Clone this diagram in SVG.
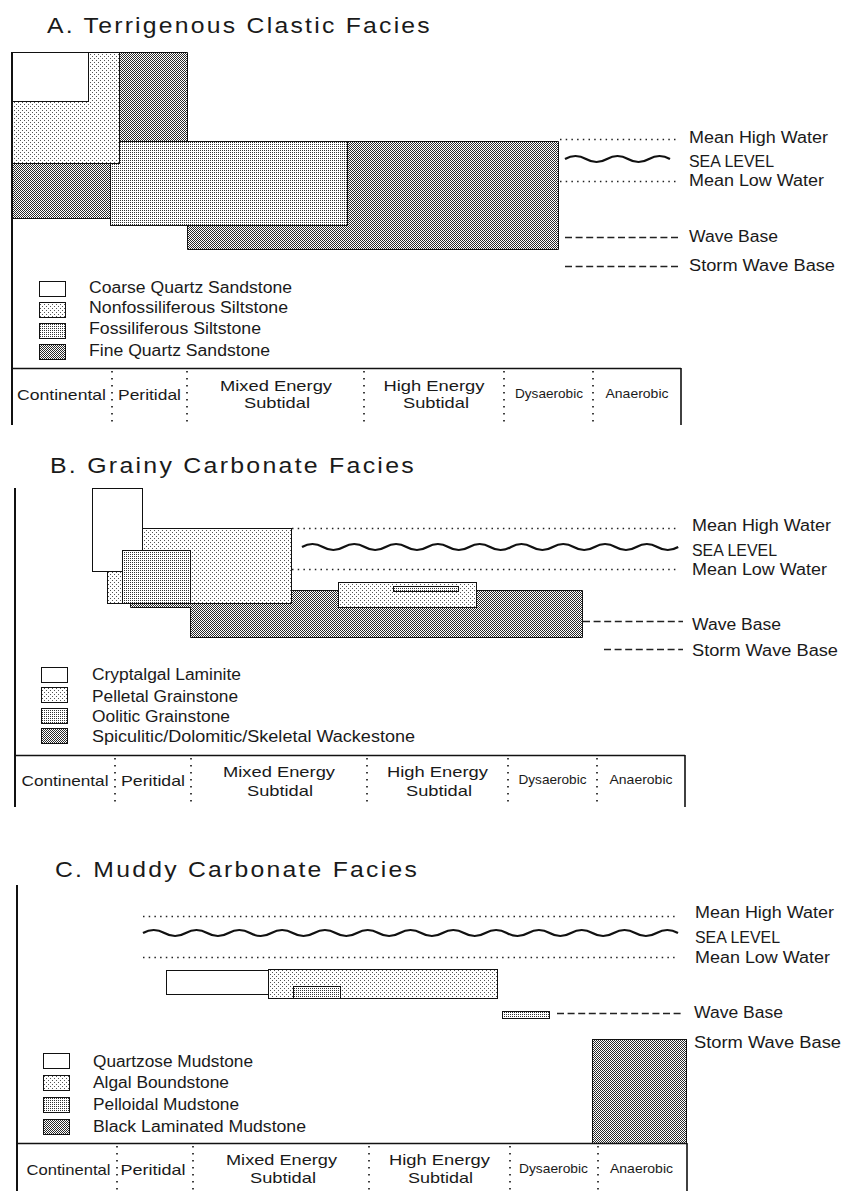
<svg xmlns="http://www.w3.org/2000/svg" width="846" height="1191" viewBox="0 0 846 1191">
<style>
.t{font-family:"Liberation Sans",Arial,sans-serif;font-size:16px;fill:#1a1a1a}
.ttl{font-size:22px;letter-spacing:2px}
.z{font-size:15px}
.sm{font-size:13.5px}
.box{stroke:#111;stroke-width:1}
.ax{stroke:#111;stroke-width:2;fill:none}
.bar{stroke:#111;stroke-width:1.6;fill:none}
.sep{stroke:#111;stroke-width:1.6;stroke-dasharray:1.6 5.4;fill:none}
.dot{stroke:#222;stroke-width:1.5;stroke-dasharray:1.5 4.2;fill:none}
.dash{stroke:#222;stroke-width:1.5;stroke-dasharray:7 3.6;fill:none}
.wave{stroke:#111;stroke-width:2.2;fill:none}
.w{fill:#fff}
.l{fill:url(#pL)}
.m{fill:url(#pM)}
.d{fill:url(#pD)}
</style>
<defs>
<pattern id="pL" width="4" height="4" patternUnits="userSpaceOnUse"><rect width="4" height="4" fill="#fff"/><rect x="0" y="0" width="1" height="1" fill="#555"/><rect x="2" y="2" width="1" height="1" fill="#555"/></pattern>
<pattern id="pM" width="2" height="2" patternUnits="userSpaceOnUse"><rect width="2" height="2" fill="#fff"/><rect x="0" y="0" width="1" height="1" fill="#333"/></pattern>
<pattern id="pD" width="2" height="2" patternUnits="userSpaceOnUse"><rect width="2" height="2" fill="#fff"/><rect x="0" y="0" width="1" height="1" fill="#2a2a2a"/><rect x="1" y="1" width="1" height="1" fill="#2a2a2a"/></pattern>
</defs>
<rect width="846" height="1191" fill="#fff"/>

<!-- Panel A -->
<g id="panelA">
<text class="t ttl" x="47" y="33" textLength="385" lengthAdjust="spacingAndGlyphs">A. Terrigenous Clastic Facies</text>
<g id="A-facies">
<polygon class="box d" points="12.5,52.5 187.5,52.5 187.5,141.5 558.5,141.5 558.5,249.5 187.5,249.5 187.5,218.5 12.5,218.5"/>
<rect class="box m" x="110.5" y="141.5" width="237" height="84"/>
<rect class="box l" x="12.5" y="52.5" width="107" height="111"/>
<rect class="box w" x="12.5" y="52.5" width="76" height="49"/>
</g>
<g id="A-levels">
<line class="dot" x1="560" y1="139.5" x2="676" y2="139.5"/>
<path class="wave" d="M565 159 q10.5 -6 21 0 t21 0 t21 0 t21 0 t21 0"/>
<line class="dot" x1="560" y1="181.5" x2="676" y2="181.5"/>
<line class="dash" x1="565" y1="237.5" x2="678" y2="237.5"/>
<line class="dash" x1="565" y1="266.5" x2="680" y2="266.5"/>
<text class="t" x="689" y="143" textLength="139" lengthAdjust="spacingAndGlyphs">Mean High Water</text>
<text class="t" x="689" y="167" textLength="85" lengthAdjust="spacingAndGlyphs">SEA LEVEL</text>
<text class="t" x="689" y="186" textLength="135" lengthAdjust="spacingAndGlyphs">Mean Low Water</text>
<text class="t" x="689" y="242" textLength="89" lengthAdjust="spacingAndGlyphs">Wave Base</text>
<text class="t" x="689" y="271" textLength="146" lengthAdjust="spacingAndGlyphs">Storm Wave Base</text>
</g>
<g id="A-legend">
<rect class="box w" x="39.5" y="281.5" width="26" height="15"/>
<rect class="box l" x="39.5" y="302.5" width="26" height="15"/>
<rect class="box m" x="39.5" y="323.5" width="26" height="15"/>
<rect class="box d" x="39.5" y="344.5" width="26" height="15"/>
<text class="t" x="89" y="293" textLength="203" lengthAdjust="spacingAndGlyphs">Coarse Quartz Sandstone</text>
<text class="t" x="89" y="313" textLength="199" lengthAdjust="spacingAndGlyphs">Nonfossiliferous Siltstone</text>
<text class="t" x="89" y="334" textLength="172" lengthAdjust="spacingAndGlyphs">Fossiliferous Siltstone</text>
<text class="t" x="89" y="356" textLength="181" lengthAdjust="spacingAndGlyphs">Fine Quartz Sandstone</text>
</g>
<g id="A-zones">
<line class="ax" x1="12" y1="52" x2="12" y2="425"/>
<line class="bar" x1="12" y1="368.5" x2="681" y2="368.5"/>
<line class="bar" x1="681" y1="368" x2="681" y2="425"/>
<line class="sep" x1="112" y1="371" x2="112" y2="425"/>
<line class="sep" x1="187" y1="371" x2="187" y2="425"/>
<line class="sep" x1="364" y1="371" x2="364" y2="425"/>
<line class="sep" x1="504" y1="371" x2="504" y2="425"/>
<line class="sep" x1="593" y1="371" x2="593" y2="425"/>
<text class="t z" x="61.5" y="400" text-anchor="middle" textLength="89" lengthAdjust="spacingAndGlyphs">Continental</text>
<text class="t z" x="149.5" y="400" text-anchor="middle" textLength="63" lengthAdjust="spacingAndGlyphs">Peritidal</text>
<text class="t z" x="276" y="391" text-anchor="middle" textLength="112" lengthAdjust="spacingAndGlyphs">Mixed Energy</text>
<text class="t z" x="277" y="408" text-anchor="middle" textLength="66" lengthAdjust="spacingAndGlyphs">Subtidal</text>
<text class="t z" x="434" y="391" text-anchor="middle" textLength="101" lengthAdjust="spacingAndGlyphs">High Energy</text>
<text class="t z" x="436" y="408" text-anchor="middle" textLength="66" lengthAdjust="spacingAndGlyphs">Subtidal</text>
<text class="t sm" x="549" y="398" text-anchor="middle" textLength="68" lengthAdjust="spacingAndGlyphs">Dysaerobic</text>
<text class="t sm" x="637" y="398" text-anchor="middle" textLength="63" lengthAdjust="spacingAndGlyphs">Anaerobic</text>
</g>
</g>

<!-- Panel B -->
<g id="panelB">
<text class="t ttl" x="50" y="473" textLength="366" lengthAdjust="spacingAndGlyphs">B. Grainy Carbonate Facies</text>
<g id="B-facies">
<polygon class="box d" points="130.5,595.5 190.5,595.5 190.5,590.5 582.5,590.5 582.5,637.5 190.5,637.5 190.5,607.5 130.5,607.5"/>
<rect class="box l" x="107.5" y="528.5" width="184" height="75"/>
<rect class="box w" x="92.5" y="488.5" width="50" height="83"/>
<rect class="box m" x="122.5" y="550.5" width="68" height="53"/>
<rect class="box l" x="338.5" y="582.5" width="138" height="25"/>
<rect class="box m" x="393.5" y="586.5" width="65" height="5"/>
</g>
<g id="B-levels">
<line class="dot" x1="292" y1="528.5" x2="679" y2="528.5"/>
<path class="wave" d="M302 547 q10.45 -6 20.9 0 t20.9 0 t20.9 0 t20.9 0 t20.9 0 t20.9 0 t20.9 0 t20.9 0 t20.9 0 t20.9 0 t20.9 0 t20.9 0 t20.9 0 t20.9 0 t20.9 0 t20.9 0 t20.9 0 t20.9 0"/>
<line class="dot" x1="292" y1="569.5" x2="679" y2="569.5"/>
<line class="dash" x1="583" y1="621.5" x2="683" y2="621.5"/>
<line class="dash" x1="604" y1="649.5" x2="683" y2="649.5"/>
<text class="t" x="692" y="531" textLength="139" lengthAdjust="spacingAndGlyphs">Mean High Water</text>
<text class="t" x="692" y="556" textLength="85" lengthAdjust="spacingAndGlyphs">SEA LEVEL</text>
<text class="t" x="692" y="575" textLength="135" lengthAdjust="spacingAndGlyphs">Mean Low Water</text>
<text class="t" x="692" y="630" textLength="89" lengthAdjust="spacingAndGlyphs">Wave Base</text>
<text class="t" x="692" y="656" textLength="146" lengthAdjust="spacingAndGlyphs">Storm Wave Base</text>
</g>
<g id="B-legend">
<rect class="box w" x="41.5" y="667.5" width="26" height="15"/>
<rect class="box l" x="41.5" y="687.5" width="26" height="15"/>
<rect class="box m" x="41.5" y="708.5" width="26" height="15"/>
<rect class="box d" x="41.5" y="728.5" width="26" height="15"/>
<text class="t" x="92" y="680" textLength="149" lengthAdjust="spacingAndGlyphs">Cryptalgal Laminite</text>
<text class="t" x="92" y="702" textLength="146" lengthAdjust="spacingAndGlyphs">Pelletal Grainstone</text>
<text class="t" x="92" y="722" textLength="138" lengthAdjust="spacingAndGlyphs">Oolitic Grainstone</text>
<text class="t" x="92" y="742" textLength="323" lengthAdjust="spacingAndGlyphs">Spiculitic/Dolomitic/Skeletal Wackestone</text>
</g>
<g id="B-zones">
<line class="ax" x1="15" y1="488" x2="15" y2="807"/>
<line class="bar" x1="15" y1="755.5" x2="685" y2="755.5"/>
<line class="bar" x1="685" y1="755" x2="685" y2="807"/>
<line class="sep" x1="115" y1="758" x2="115" y2="807"/>
<line class="sep" x1="191" y1="758" x2="191" y2="807"/>
<line class="sep" x1="367" y1="758" x2="367" y2="807"/>
<line class="sep" x1="508" y1="758" x2="508" y2="807"/>
<line class="sep" x1="597" y1="758" x2="597" y2="807"/>
<text class="t z" x="65" y="786" text-anchor="middle" textLength="87" lengthAdjust="spacingAndGlyphs">Continental</text>
<text class="t z" x="153" y="786" text-anchor="middle" textLength="64" lengthAdjust="spacingAndGlyphs">Peritidal</text>
<text class="t z" x="279" y="777" text-anchor="middle" textLength="112" lengthAdjust="spacingAndGlyphs">Mixed Energy</text>
<text class="t z" x="280" y="796" text-anchor="middle" textLength="66" lengthAdjust="spacingAndGlyphs">Subtidal</text>
<text class="t z" x="437.5" y="777" text-anchor="middle" textLength="101" lengthAdjust="spacingAndGlyphs">High Energy</text>
<text class="t z" x="439" y="796" text-anchor="middle" textLength="66" lengthAdjust="spacingAndGlyphs">Subtidal</text>
<text class="t sm" x="552.5" y="784" text-anchor="middle" textLength="68" lengthAdjust="spacingAndGlyphs">Dysaerobic</text>
<text class="t sm" x="641" y="784" text-anchor="middle" textLength="63" lengthAdjust="spacingAndGlyphs">Anaerobic</text>
</g>
</g>

<!-- Panel C -->
<g id="panelC">
<text class="t ttl" x="55" y="877" textLength="364" lengthAdjust="spacingAndGlyphs">C. Muddy Carbonate Facies</text>
<g id="C-facies">
<rect class="box w" x="166.5" y="970.5" width="102" height="24"/>
<rect class="box l" x="268.5" y="969.5" width="229" height="29"/>
<rect class="box m" x="293.5" y="986.5" width="47" height="12"/>
<rect class="box m" x="502.5" y="1011.5" width="47" height="7"/>
<rect class="box d" x="592.5" y="1039.5" width="94" height="104"/>
</g>
<g id="C-levels">
<line class="dot" x1="143" y1="916.5" x2="678" y2="916.5"/>
<path class="wave" d="M143 933 q10.7 -6 21.4 0 t21.4 0 t21.4 0 t21.4 0 t21.4 0 t21.4 0 t21.4 0 t21.4 0 t21.4 0 t21.4 0 t21.4 0 t21.4 0 t21.4 0 t21.4 0 t21.4 0 t21.4 0 t21.4 0 t21.4 0 t21.4 0 t21.4 0 t21.4 0 t21.4 0 t21.4 0 t21.4 0 t21.4 0"/>
<line class="dot" x1="143" y1="957.5" x2="678" y2="957.5"/>
<line class="dash" x1="557" y1="1013.5" x2="683" y2="1013.5"/>
<text class="t" x="695" y="918" textLength="139" lengthAdjust="spacingAndGlyphs">Mean High Water</text>
<text class="t" x="695" y="943" textLength="85" lengthAdjust="spacingAndGlyphs">SEA LEVEL</text>
<text class="t" x="695" y="963" textLength="135" lengthAdjust="spacingAndGlyphs">Mean Low Water</text>
<text class="t" x="694" y="1018" textLength="89" lengthAdjust="spacingAndGlyphs">Wave Base</text>
<text class="t" x="694" y="1048" textLength="147" lengthAdjust="spacingAndGlyphs">Storm Wave Base</text>
</g>
<g id="C-legend">
<rect class="box w" x="43.5" y="1053.5" width="26" height="15"/>
<rect class="box l" x="43.5" y="1075.5" width="26" height="15"/>
<rect class="box m" x="43.5" y="1097.5" width="26" height="15"/>
<rect class="box d" x="43.5" y="1119.5" width="26" height="15"/>
<text class="t" x="93" y="1067" textLength="160" lengthAdjust="spacingAndGlyphs">Quartzose Mudstone</text>
<text class="t" x="93" y="1088" textLength="136" lengthAdjust="spacingAndGlyphs">Algal Boundstone</text>
<text class="t" x="93" y="1110" textLength="146" lengthAdjust="spacingAndGlyphs">Pelloidal Mudstone</text>
<text class="t" x="93" y="1132" textLength="213" lengthAdjust="spacingAndGlyphs">Black Laminated Mudstone</text>
</g>
<g id="C-zones">
<line class="ax" x1="17" y1="885" x2="17" y2="1191"/>
<line class="bar" x1="17" y1="1143.5" x2="687" y2="1143.5"/>
<line class="bar" x1="687" y1="1143" x2="687" y2="1191"/>
<line class="sep" x1="117" y1="1146" x2="117" y2="1191"/>
<line class="sep" x1="193" y1="1146" x2="193" y2="1191"/>
<line class="sep" x1="369" y1="1146" x2="369" y2="1191"/>
<line class="sep" x1="510" y1="1146" x2="510" y2="1191"/>
<line class="sep" x1="598" y1="1146" x2="598" y2="1191"/>
<text class="t z" x="68.5" y="1175" text-anchor="middle" textLength="84" lengthAdjust="spacingAndGlyphs">Continental</text>
<text class="t z" x="153" y="1175" text-anchor="middle" textLength="65" lengthAdjust="spacingAndGlyphs">Peritidal</text>
<text class="t z" x="281.5" y="1165" text-anchor="middle" textLength="111" lengthAdjust="spacingAndGlyphs">Mixed Energy</text>
<text class="t z" x="283" y="1183" text-anchor="middle" textLength="66" lengthAdjust="spacingAndGlyphs">Subtidal</text>
<text class="t z" x="439.5" y="1165" text-anchor="middle" textLength="101" lengthAdjust="spacingAndGlyphs">High Energy</text>
<text class="t z" x="440.5" y="1183" text-anchor="middle" textLength="65" lengthAdjust="spacingAndGlyphs">Subtidal</text>
<text class="t sm" x="553.5" y="1173" text-anchor="middle" textLength="69" lengthAdjust="spacingAndGlyphs">Dysaerobic</text>
<text class="t sm" x="641.5" y="1173" text-anchor="middle" textLength="63" lengthAdjust="spacingAndGlyphs">Anaerobic</text>
</g>
</g>
</svg>
